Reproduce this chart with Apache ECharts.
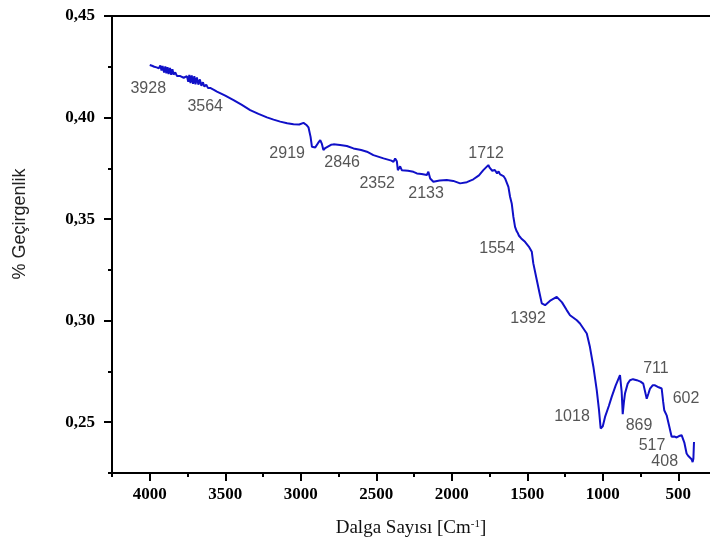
<!DOCTYPE html>
<html>
<head>
<meta charset="utf-8">
<script src="https://cdn.jsdelivr.net/npm/echarts@6/dist/echarts.min.js"></script>
<style>html,body{margin:0;padding:0;background:#fff}#c{width:710px;height:549px}</style>
</head>
<body>
<div id="c"></div>
<script>
// Wavenumber (cm-1) and transmittance values
const waveNumbers = [4000,3985,3970,3955,3940,3930,3922,3915,3905,3897,3890,3882,3875,3866,3858,3850,3842,3831,3820,3809,3798,3787,3775,3765,3754,3745,3738,3730,3722,3713,3705,3697,3688,3678,3668,3658,3648,3638,3626,3615,3600,3589,3575,3555,3500,3445,3390,3335,3280,3224,3180,3136,3090,3048,3010,2982,2960,2949,2935,2926,2915,2904,2885,2871,2860,2850,2838,2827,2800,2783,2740,2695,2651,2600,2562,2519,2452,2400,2386,2375,2364,2357,2353,2342,2331,2290,2254,2231,2200,2165,2155,2143,2122,2080,2033,1990,1945,1900,1857,1820,1791,1758,1748,1740,1732,1725,1715,1700,1690,1680,1670,1658,1647,1625,1614,1603,1592,1581,1570,1562,1555,1548,1540,1530,1515,1490,1470,1460,1437,1420,1404,1392,1382,1345,1305,1270,1239,1217,1172,1151,1106,1085,1062,1040,1025,1014,1000,985,960,941,915,886,875,868,860,853,835,820,800,775,750,732,720,709,698,687,670,654,630,610,600,593,577,560,544,527,511,495,478,460,445,435,423,412,405,400,396];
const transmittance = [0.4259,0.4255,0.4250,0.4247,0.4243,0.4256,0.4232,0.4254,0.4222,0.4252,0.4218,0.4248,0.4214,0.4244,0.4210,0.4238,0.4212,0.4222,0.4205,0.4214,0.4204,0.4198,0.4196,0.4188,0.4204,0.4176,0.4210,0.4170,0.4208,0.4166,0.4204,0.4164,0.4198,0.4162,0.4188,0.4156,0.4174,0.4152,0.4162,0.4146,0.4146,0.4140,0.4136,0.4128,0.4108,0.4086,0.4062,0.4037,0.4018,0.4001,0.3990,0.3980,0.3972,0.3967,0.3966,0.3974,0.3962,0.3952,0.3905,0.3856,0.3860,0.3853,0.3875,0.3889,0.3870,0.3840,0.3850,0.3856,0.3866,0.3868,0.3865,0.3860,0.3848,0.3840,0.3832,0.3815,0.3799,0.3788,0.3782,0.3799,0.3785,0.3741,0.3733,0.3760,0.3741,0.3738,0.3733,0.3725,0.3722,0.3717,0.3733,0.3700,0.3684,0.3690,0.3692,0.3688,0.3676,0.3682,0.3696,0.3715,0.3741,0.3766,0.3752,0.3760,0.3738,0.3733,0.3742,0.3725,0.3735,0.3720,0.3728,0.3712,0.3700,0.3659,0.3610,0.3577,0.3511,0.3462,0.3440,0.3430,0.3418,0.3425,0.3405,0.3400,0.3388,0.3365,0.3339,0.3282,0.3200,0.3140,0.3085,0.3080,0.3076,0.3100,0.3117,0.3090,0.3052,0.3027,0.3002,0.2986,0.2937,0.2870,0.2772,0.2658,0.2560,0.2469,0.2480,0.2526,0.2580,0.2625,0.2680,0.2732,0.2650,0.2540,0.2600,0.2641,0.2690,0.2707,0.2712,0.2707,0.2700,0.2690,0.2688,0.2616,0.2640,0.2666,0.2682,0.2682,0.2672,0.2666,0.2600,0.2559,0.2534,0.2480,0.2428,0.2430,0.2425,0.2432,0.2436,0.2400,0.2346,0.2335,0.2329,0.2318,0.2304,0.2320,0.2403];
// Peak annotations: label text and where it sits (data coordinates)
const peakLabels = ['3928','3564','2919','2846','2352','2133','1712','1554','1392','1018','869','711','602','517','408'];
const peakLabelX = [4010,3633,3090,2726,2494,2170,1773,1700,1495,1204,760,648,449,674,590];
const peakLabelY = [0.4145,0.4052,0.3825,0.3776,0.3677,0.3628,0.3825,0.3357,0.3012,0.2530,0.2485,0.2766,0.2618,0.2387,0.2308];
// Axis ticks
const xMajorTicks = [500,1000,1500,2000,2500,3000,3500,4000];
const xMinorTicks = [750,1250,1750,2250,2750,3250,3750,4250];
const yMajorTicks = [0.25,0.30,0.35,0.40,0.45];
const yMinorTicks = [0.225,0.275,0.325,0.375,0.425];

const X_MIN = 290, X_MAX = 4250, Y_MIN = 0.225, Y_MAX = 0.45;

const chart = echarts.init(document.getElementById('c'), null, {renderer:'canvas'});
const serifBold = {fontFamily:'"Liberation Serif","Times New Roman",serif', fontWeight:'bold', fontSize:17, color:'#000'};
const lineStyle = {color:'#000', width:2};

const spectrum = waveNumbers.map((w,i)=>[w, transmittance[i]]);
const labels = peakLabels.map((t,i)=>({name:t, value:[peakLabelX[i], peakLabelY[i]]}));

chart.setOption({
  animation:false,
  backgroundColor:'#fff',
  grid:{left:112, right:0, top:16, bottom:76, containLabel:false},
  xAxis:[
    {type:'value', inverse:true, min:X_MIN, max:X_MAX, position:'bottom',
     axisLine:{show:true, onZero:false, lineStyle},
     axisTick:{show:true, inside:false, length:8, customValues:xMajorTicks, lineStyle},
     axisLabel:{show:true, margin:13, customValues:xMajorTicks, ...serifBold, formatter:v=>String(v)},
     splitLine:{show:false},
     name:'{a|Dalga Sayısı [Cm}{s|-1}{a|]}', nameLocation:'middle', nameGap:46,
     nameTextStyle:{rich:{
       a:{fontFamily:'"Liberation Serif","Times New Roman",serif', fontSize:19, color:'#111'},
       s:{fontFamily:'"Liberation Serif","Times New Roman",serif', fontSize:11, color:'#111', verticalAlign:'top', padding:[0,0,8,0]}
     }}},
    {type:'value', inverse:true, min:X_MIN, max:X_MAX, position:'bottom',
     axisLine:{show:false, onZero:false},
     axisTick:{show:true, inside:false, length:4, customValues:xMinorTicks, lineStyle},
     axisLabel:{show:false}, splitLine:{show:false}},
    {type:'value', inverse:true, min:X_MIN, max:X_MAX, position:'top',
     axisLine:{show:true, onZero:false, lineStyle},
     axisTick:{show:false}, axisLabel:{show:false}, splitLine:{show:false}}
  ],
  yAxis:[
    {type:'value', min:Y_MIN, max:Y_MAX, position:'left',
     axisLine:{show:true, onZero:false, lineStyle},
     axisTick:{show:true, inside:false, length:8, customValues:yMajorTicks, lineStyle},
     axisLabel:{show:true, margin:17, customValues:yMajorTicks, ...serifBold,
       formatter:v=>v.toFixed(2).replace('.',',')},
     splitLine:{show:false}},
    {type:'value', min:Y_MIN, max:Y_MAX, position:'left',
     axisLine:{show:false, onZero:false},
     axisTick:{show:true, inside:false, length:4, customValues:yMinorTicks, lineStyle},
     axisLabel:{show:false}, splitLine:{show:false}}
  ],
  graphic:[{
    type:'text', x:20, y:224, rotation:Math.PI/2,
    style:{text:'% Geçirgenlik', fill:'#222', font:'18px "Liberation Sans", Arial, sans-serif',
      textAlign:'center', textVerticalAlign:'middle'}
  }],
  series:[
    {type:'line', xAxisIndex:0, yAxisIndex:0, data:spectrum, showSymbol:false, symbol:'none',
     lineStyle:{color:'#1010c8', width:2}, z:3},
    {type:'scatter', xAxisIndex:0, yAxisIndex:0, data:labels, symbolSize:0, silent:true,
     label:{show:true, position:'inside', formatter:p=>p.name,
       fontFamily:'"Liberation Sans", Arial, sans-serif', fontSize:16, color:'#2b2b2b'}, z:4}
  ]
});
</script>
</body>
</html>
